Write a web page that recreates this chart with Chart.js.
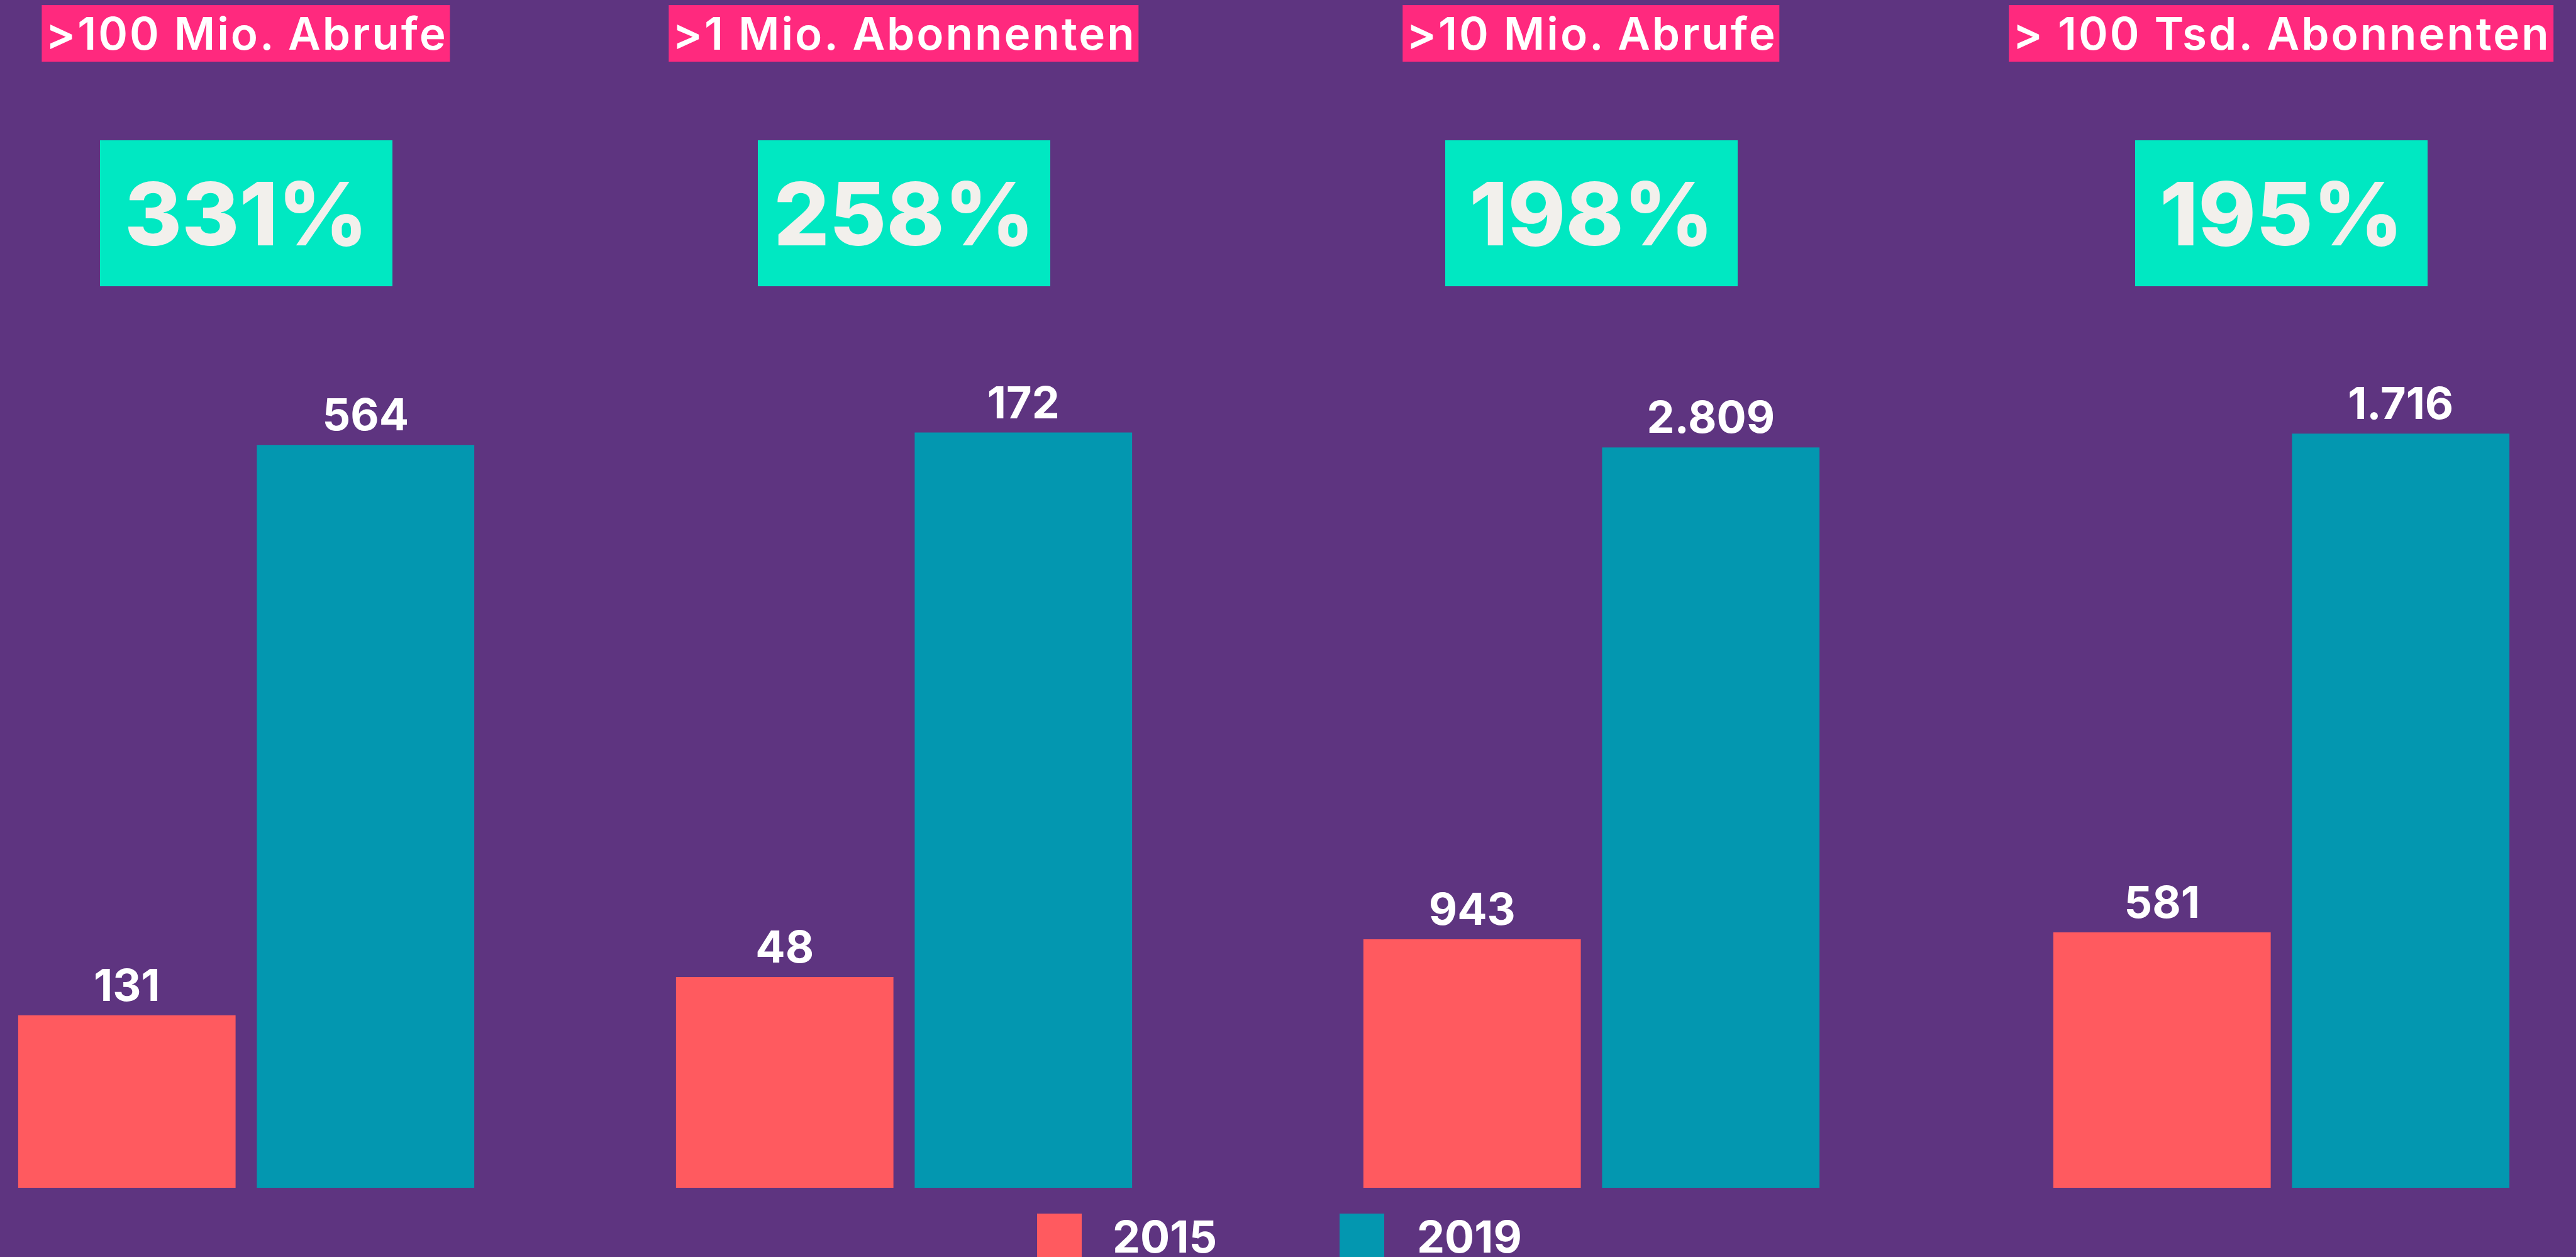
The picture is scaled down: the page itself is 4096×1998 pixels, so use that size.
<!DOCTYPE html>
<html>
<head>
<meta charset="utf-8">
<script src="https://cdn.jsdelivr.net/npm/chart.js@4.4.1/dist/chart.umd.min.js"></script>
<style>
  html, body {
    margin: 0;
    padding: 0;
    width: 4096px;
    height: 1998px;
    overflow: hidden;
    background: #5E3480;
    font-family: Inter, "Open Sans", sans-serif;
  }
  .group-title {
    position: absolute;
    top: 8px;
    height: 90px;
    line-height: 90px;
    padding: 0 4px 0 6px;
    background: #FF297E;
    color: #fff;
    font-size: 71px;
    font-weight: 600;
    letter-spacing: 3px;
    white-space: nowrap;
    transform: translateX(-50%);
  }
  .growth {
    position: absolute;
    top: 223px;
    width: 465px;
    height: 232px;
    margin-left: -232px;
    background: #00E8C2;
    color: #F2F0EC;
    font-size: 139px;
    font-weight: 800;
    display: flex;
    align-items: center;
    justify-content: center;
  }
  .chart-box {
    position: absolute;
    top: 548px;
  }
  .legend-box {
    position: absolute;
    top: 1929px;
    width: 71px;
    height: 71px;
  }
  .legend-text {
    position: absolute;
    top: 1921px;
    height: 90px;
    line-height: 90px;
    color: #fff;
    font-size: 70px;
    font-weight: 700;
  }
</style>
</head>
<body>
<script>
// Data
const categories = ['>100 Mio. Abrufe', '>1 Mio. Abonnenten', '>10 Mio. Abrufe', '> 100 Tsd. Abonnenten'];
const years = ['2015', '2019'];
const values2015 = [131, 48, 943, 581];
const values2019 = [564, 172, 2809, 1716];
// every panel has its own value scale
const axisMax = [640, 192, 3199, 1918];

// Layout (px in the 4096 wide window)
const groupCenters = [391, 1437, 2530, 3627];
const colors = ['#FF5A5F', '#0397B0'];
const chartWidth = 759;
const chartHeight = 1340;

// German number format: 2809 -> 2.809
function formatDE(v) {
    return String(v).replace(/\B(?=(\d{3})+(?!\d))/g, '.');
}

// draws the value above every bar
const valueLabels = {
    id: 'valueLabels',
    afterDatasetsDraw(chart) {
        const ctx = chart.ctx;
        ctx.save();
        ctx.font = '700 70px Inter';
        ctx.fillStyle = '#ffffff';
        ctx.textAlign = 'center';
        ctx.textBaseline = 'alphabetic';
        chart.data.datasets.forEach((ds, d) => {
            chart.getDatasetMeta(d).data.forEach((bar, j) => {
                ctx.fillText(formatDE(ds.data[j]), bar.x, bar.y - 23);
            });
        });
        ctx.restore();
    }
};

categories.forEach((cat, i) => {
    const cx = groupCenters[i];

    const title = document.createElement('div');
    title.className = 'group-title';
    title.style.left = cx + 'px';
    title.textContent = cat;
    document.body.appendChild(title);

    const growth = document.createElement('div');
    growth.className = 'growth';
    growth.style.left = cx + 'px';
    growth.textContent = Math.round((values2019[i] / values2015[i] - 1) * 100) + '%';
    document.body.appendChild(growth);

    const box = document.createElement('div');
    box.className = 'chart-box';
    box.style.left = (cx - chartWidth / 2) + 'px';
    const canvas = document.createElement('canvas');
    canvas.width = chartWidth;
    canvas.height = chartHeight;
    box.appendChild(canvas);
    document.body.appendChild(box);

    new Chart(canvas, {
        type: 'bar',
        data: {
            labels: [cat],
            datasets: [
                { label: years[0], data: [values2015[i]], backgroundColor: colors[0] },
                { label: years[1], data: [values2019[i]], backgroundColor: colors[1] }
            ]
        },
        options: {
            responsive: false,
            animation: false,
            barPercentage: 0.911,
            categoryPercentage: 1,
            layout: { padding: 0 },
            scales: {
                x: { display: false },
                y: { display: false, min: 0, max: axisMax[i] }
            },
            plugins: {
                legend: { display: false },
                tooltip: { enabled: false }
            }
        },
        plugins: [valueLabels]
    });
});

// Legend
const legendBoxX = [1649, 2130];
const legendTextX = [1769, 2253];
years.forEach((y, i) => {
    const sw = document.createElement('div');
    sw.className = 'legend-box';
    sw.style.left = legendBoxX[i] + 'px';
    sw.style.background = colors[i];
    document.body.appendChild(sw);

    const t = document.createElement('div');
    t.className = 'legend-text';
    t.style.left = legendTextX[i] + 'px';
    t.textContent = y;
    document.body.appendChild(t);
});
</script>
</body>
</html>
